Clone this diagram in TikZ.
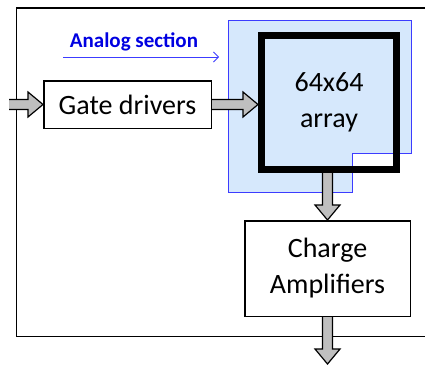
\documentclass[tikz,border=0pt]{standalone}
\usepackage{fontspec}
\setmainfont{Carlito}
\usetikzlibrary{positioning,arrows.meta,calc}
\definecolor{zoneblue}{RGB}{214,232,252}
\definecolor{edgeblue}{RGB}{60,60,255}
\definecolor{textblue}{RGB}{0,0,225}
% fat grey arrows, tip at #2
\newcommand{\harrow}[2]{%
  \draw[fatarrow] ($(#1)+(0,-5)$) -- ($(#2)+(-15,-5)$) -- ($(#2)+(-15,-12.5)$) -- (#2)
    -- ($(#2)+(-15,12.5)$) -- ($(#2)+(-15,5)$) -- ($(#1)+(0,5)$);}
\newcommand{\varrow}[2]{%
  \draw[fatarrow] ($(#1)+(-5,0)$) -- ($(#2)+(-5,-15)$) -- ($(#2)+(-12.5,-15)$) -- (#2)
    -- ($(#2)+(12.5,-15)$) -- ($(#2)+(5,-15)$) -- ($(#1)+(5,0)$);}

\begin{document}
\begin{tikzpicture}[
    x=1pt, y=-1pt,
    box/.style={draw, line width=1.5pt, align=center, font=\fontsize{28}{36}\selectfont},
    fatarrow/.style={draw, fill=gray!50, line width=1.2pt, line join=miter},
    >=Stealth
  ]
    \useasboundingbox (0,0) rectangle (425,364);
    \clip (0,0) rectangle (425,364);

    % chip outline
    \draw[line width=1.3pt] (432,8) -- (16.7,8) -- (16.7,336.7) -- (432,336.7);

    % analog section
    \draw[edgeblue, line width=0.8pt, fill=zoneblue] (228,20) -- (411,20) -- (411,153)
      -- (352,153) -- (352,192) -- (228,192) -- cycle;
    \node[font=\fontsize{21}{24}\selectfont\bfseries, text=textblue] (ana) at (134,42) {Analog section};
    \coordinate (ana1) at (63,57);
    \coordinate (ana2) at (219,57);
    \draw[edgeblue, line width=0.8pt, -{Straight Barb[length=5pt,width=10pt]}] (ana1) -- (ana2);

    \node[box, minimum width=167.5pt, minimum height=47.5pt] (gd) at (127.5,104.5) {Gate drivers};
    \node[box, line width=7pt, minimum width=135pt, minimum height=134pt] (arr) at (329,102.5) {64x64\\array};
    \node[box, minimum width=165.5pt, minimum height=95.5pt] (ch) at (327.5,268.5) {Charge\\Amplifiers};

    \coordinate (in) at (9,104.5);
    \coordinate (out) at (327.5,364);
    \harrow{in}{gd.west}
    \harrow{gd.east}{gd.east -| arr.west}
    \varrow{arr.south -| ch.north}{ch.north}
    \varrow{ch.south}{out}
\end{tikzpicture}
\end{document}
